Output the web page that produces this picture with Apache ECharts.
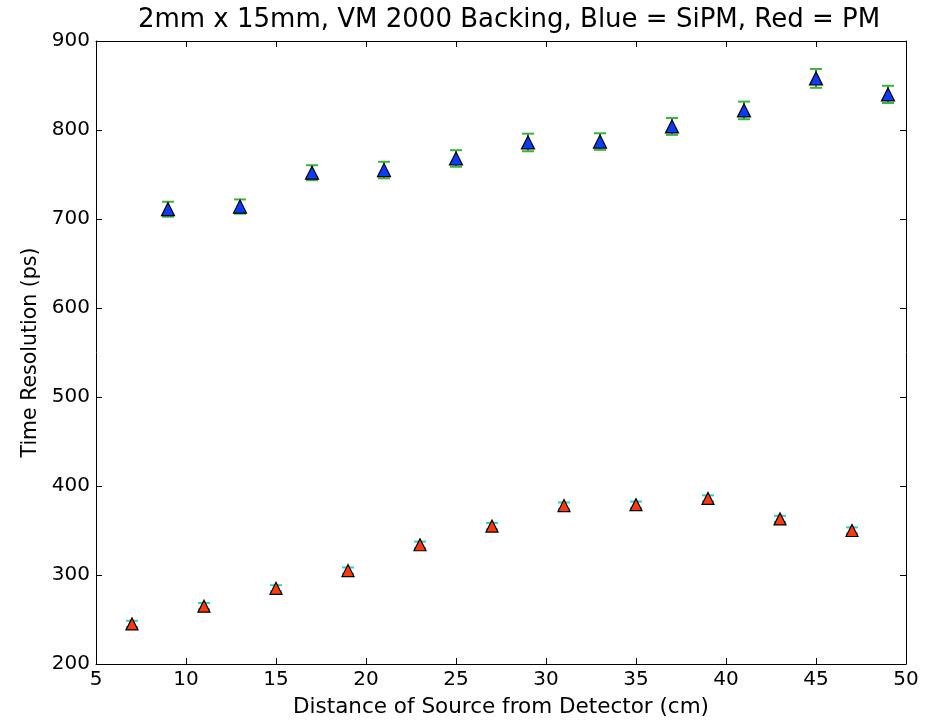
<!DOCTYPE html>
<html><head><meta charset="utf-8">
<script src="https://cdn.jsdelivr.net/npm/echarts@6/dist/echarts.min.js"></script>
<style>html,body{margin:0;padding:0;background:#fff}#c{width:925px;height:723px}</style>
</head><body><div id="c"></div>
<script>
const titleText = '2mm x 15mm, VM 2000 Backing, Blue = SiPM, Red = PM';
const xLabel = 'Distance of Source from Detector (cm)';
const yLabel = 'Time Resolution (ps)';

const sipmX = [9, 13, 17, 21, 25, 29, 33, 37, 41, 45, 49];
const sipmY = [711, 714, 752, 755, 768, 786, 787, 804, 822, 858, 840];
const sipmErr = [8.4, 8.0, 8.4, 9.3, 9.3, 9.9, 9.3, 9.5, 9.9, 10.6, 9.7];

const pmX = [7, 11, 15, 19, 23, 27, 31, 35, 39, 43, 47];
const pmY = [245, 265, 285, 305, 334, 355, 378, 379, 386, 363, 350];
const pmErr = [3.5, 3.5, 3.5, 3.5, 3.5, 3.5, 3.5, 3.5, 3.5, 3.5, 3.5];

const FONT = 'DejaVu Sans';

function pairs(xs, ys) { return xs.map((x, i) => [x, ys[i]]); }
function errData(xs, ys, es) { return xs.map((x, i) => [x, ys[i] - es[i], ys[i] + es[i]]); }

function errRender(color, capColor) {
  return function (params, api) {
    const lo = api.coord([api.value(0), api.value(1)]);
    const hi = api.coord([api.value(0), api.value(2)]);
    const hw = 6;
    return {
      type: 'group',
      children: [
        { type: 'line', shape: { x1: lo[0], y1: lo[1], x2: hi[0], y2: hi[1] }, style: { stroke: color, lineWidth: 1.5 } },
        { type: 'line', shape: { x1: lo[0] - hw, y1: lo[1], x2: lo[0] + hw, y2: lo[1] }, style: { stroke: capColor, lineWidth: 2 } },
        { type: 'line', shape: { x1: hi[0] - hw, y1: hi[1], x2: hi[0] + hw, y2: hi[1] }, style: { stroke: capColor, lineWidth: 2 } }
      ]
    };
  };
}

const axisLine = { show: true, lineStyle: { color: '#000', width: 1 } };
const tickStyle = { show: true, inside: true, length: 6, lineStyle: { color: '#000', width: 1 } };

const chart = echarts.init(document.getElementById('c'));
chart.setOption({
  backgroundColor: '#fff',
  animation: false,
  title: {
    text: titleText, left: 504, top: 2, textAlign: 'center',
    textStyle: { fontFamily: FONT, fontSize: 26, fontWeight: 'normal', color: '#000' }
  },
  grid: { left: 96, right: 19, top: 41, bottom: 54 },
  xAxis: [
    {
      type: 'value', min: 5, max: 50, interval: 5, position: 'bottom',
      axisLine: axisLine, axisTick: tickStyle, splitLine: { show: false },
      axisLabel: { fontFamily: FONT, fontSize: 20, color: '#000', margin: 6 },
      name: xLabel, nameLocation: 'middle', nameGap: 32,
      nameTextStyle: { fontFamily: FONT, fontSize: 21.5, color: '#000' }
    },
    {
      type: 'value', min: 5, max: 50, interval: 5, position: 'top',
      axisLine: axisLine, axisTick: tickStyle, splitLine: { show: false },
      axisLabel: { show: false }
    }
  ],
  yAxis: [
    {
      type: 'value', min: 200, max: 900, interval: 100, position: 'left',
      axisLine: axisLine, axisTick: tickStyle, splitLine: { show: false },
      axisLabel: { fontFamily: FONT, fontSize: 20, color: '#000', margin: 6 },
      name: yLabel, nameLocation: 'middle', nameGap: 54, nameRotate: 90,
      nameTextStyle: { fontFamily: FONT, fontSize: 20.5, color: '#000' }
    },
    {
      type: 'value', min: 200, max: 900, interval: 100, position: 'right',
      axisLine: axisLine, axisTick: tickStyle, splitLine: { show: false },
      axisLabel: { show: false }
    }
  ],
  series: [
    {
      type: 'custom', name: 'SiPM err', xAxisIndex: 0, yAxisIndex: 0,
      renderItem: errRender('#008000', '#3cb43c'),
      data: errData(sipmX, sipmY, sipmErr), z: 2
    },
    {
      type: 'custom', name: 'PM err', xAxisIndex: 0, yAxisIndex: 0,
      renderItem: errRender('#00a0a0', '#30d0d0'),
      data: errData(pmX, pmY, pmErr), z: 2
    },
    {
      type: 'scatter', name: 'SiPM', symbol: 'triangle', symbolSize: [13, 13],
      itemStyle: { color: '#0a3cff', borderColor: '#000', borderWidth: 1.2, opacity: 1 },
      data: pairs(sipmX, sipmY), z: 3
    },
    {
      type: 'scatter', name: 'PM', symbol: 'triangle', symbolSize: [12, 12],
      itemStyle: { color: '#ff3a0a', borderColor: '#000', borderWidth: 1.2, opacity: 1 },
      data: pairs(pmX, pmY), z: 3
    }
  ]
});
</script>
</body></html>
